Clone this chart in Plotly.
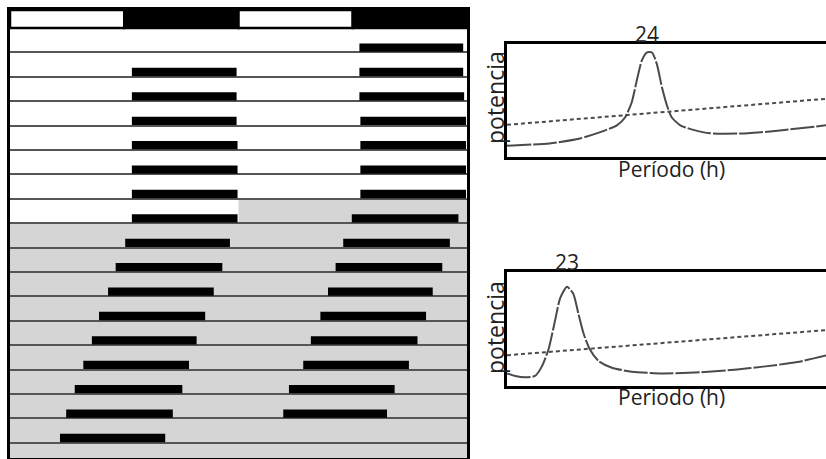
import plotly.graph_objects as go

# ---------------- data ----------------
# Actogram (double plotted, hours 0-48). Row n = day n.
left_days = [2, 3, 4, 5, 6, 7, 8, 9, 10, 11, 12, 13, 14, 15, 16, 17]
left_on = [12.8, 12.8, 12.8, 12.8, 12.8, 12.8, 12.8, 12.1, 11.1, 10.3, 9.35, 8.6, 7.7, 6.8, 5.9, 5.25]
left_off = [23.8, 23.8, 23.8, 23.9, 23.9, 23.9, 23.9, 23.1, 22.3, 21.4, 20.5, 19.6, 18.8, 18.1, 17.1, 16.3]

right_days = [1, 2, 3, 4, 5, 6, 7, 8, 9, 10, 11, 12, 13, 14, 15, 16]
right_on = [36.7, 36.7, 36.7, 36.8, 36.8, 36.8, 36.8, 35.9, 35.0, 34.2, 33.4, 32.6, 31.6, 30.8, 29.3, 28.7]
right_off = [47.6, 47.6, 47.7, 47.9, 47.9, 47.9, 47.9, 47.1, 46.2, 45.4, 44.4, 43.7, 42.8, 41.9, 40.4, 39.6]

# light/dark schedule bar at the top
ld_start = [0, 12, 24, 36]
ld_len = [12, 12, 12, 12]
ld_state = ["luz", "oscuridad", "luz", "oscuridad"]

# Periodogram 1 (LD)
per1 = [20.0, 21.2, 22.06, 22.63, 23.1, 23.33, 23.52, 23.66, 23.8, 23.95, 24.09, 24.23, 24.37, 24.53,
        24.65, 24.89, 25.26, 25.73, 26.8, 27.7, 29.0]
pow1 = [0.10, 0.12, 0.164, 0.22, 0.28, 0.35, 0.485, 0.675, 0.85, 0.925, 0.925, 0.82, 0.62, 0.44,
        0.35, 0.28, 0.24, 0.21, 0.21, 0.235, 0.28]
thr1_per = [20.0, 29.0]
thr1_pow = [0.285, 0.515]
peak1_label = "24"
peak1_per = 23.95

# Periodogram 2 (free running)
per2 = [21.3, 21.53, 21.81, 22.09, 22.28, 22.47, 22.66, 22.8, 22.99, 23.17, 23.31, 23.46, 23.64,
        23.88, 24.26, 24.82, 25.7, 26.75, 27.8, 28.53, 29.49, 30.34]
pow2 = [0.11, 0.088, 0.076, 0.088, 0.17, 0.32, 0.58, 0.77, 0.87, 0.81, 0.64, 0.46, 0.32,
        0.22, 0.16, 0.125, 0.11, 0.12, 0.145, 0.17, 0.21, 0.27]
thr2_per = [21.3, 30.3]
thr2_pow = [0.27, 0.49]
peak2_label = "23"
peak2_per = 23.0

# ---------------- figure ----------------
W, H = 826, 459
fig = go.Figure()

BAR_W = 0.34
OFF = 0.2

fig.add_trace(go.Bar(
    y=[d - OFF for d in left_days], x=[b - a for a, b in zip(left_on, left_off)], base=left_on,
    orientation="h", width=BAR_W, marker=dict(color="black", line=dict(width=0)),
    xaxis="x", yaxis="y", showlegend=False, hoverinfo="skip"))
fig.add_trace(go.Bar(
    y=[d - OFF for d in right_days], x=[b - a for a, b in zip(right_on, right_off)], base=right_on,
    orientation="h", width=BAR_W, marker=dict(color="black", line=dict(width=0)),
    xaxis="x", yaxis="y", showlegend=False, hoverinfo="skip"))
fig.add_trace(go.Bar(
    y=[-0.37] * len(ld_start), x=ld_len, base=ld_start, orientation="h", width=0.74,
    marker=dict(color=["white" if s == "luz" else "black" for s in ld_state],
                line=dict(color="black", width=2.5)),
    xaxis="x", yaxis="y", showlegend=False, hoverinfo="skip"))

line_col = "#4a4a4a"
fig.add_trace(go.Scatter(x=per1, y=pow1, mode="lines", line=dict(color=line_col, width=2, dash="24px,2px", shape="spline", smoothing=0.6),
                         xaxis="x2", yaxis="y2", showlegend=False))
fig.add_trace(go.Scatter(x=thr1_per, y=thr1_pow, mode="lines", line=dict(color=line_col, width=2, dash="4px,3px"),
                         xaxis="x2", yaxis="y2", showlegend=False))
fig.add_trace(go.Scatter(x=per2, y=pow2, mode="lines", line=dict(color=line_col, width=2, dash="24px,2px", shape="spline", smoothing=0.6),
                         xaxis="x3", yaxis="y3", showlegend=False))
fig.add_trace(go.Scatter(x=thr2_per, y=thr2_pow, mode="lines", line=dict(color=line_col, width=2, dash="4px,3px"),
                         xaxis="x3", yaxis="y3", showlegend=False))

def py(p):
    return 1 - p / H

def px(p):
    return p / W

ROW_BOTTOM = 17.62
fig.update_layout(
    width=W, height=H, margin=dict(l=0, r=0, t=0, b=0),
    paper_bgcolor="white", plot_bgcolor="white", barmode="overlay",
    font=dict(family="Open Sans", color="#222"),
    xaxis=dict(domain=[px(10), px(467)], range=[0, 48], showgrid=False, zeroline=False,
               showticklabels=False, ticks="", showline=True, mirror=True, linecolor="black", linewidth=3),
    yaxis=dict(domain=[py(458), py(10)], range=[ROW_BOTTOM, -0.74], tickvals=list(range(0, 18)),
               showgrid=True, gridcolor="#555", gridwidth=1.5, zeroline=False, showticklabels=False,
               ticks="", showline=True, mirror=True, linecolor="black", linewidth=3),
    xaxis2=dict(domain=[px(507), 1], range=[20, 29], anchor="y2", showgrid=False, zeroline=False,
                showticklabels=False, ticks="", showline=True, mirror=True, linecolor="black", linewidth=3),
    yaxis2=dict(domain=[py(157), py(44)], range=[0, 1], anchor="x2", showgrid=False, zeroline=False,
                showticklabels=False, ticks="", showline=True, linecolor="black", linewidth=3),
    xaxis3=dict(domain=[px(507), 1], range=[21.3, 30.3], anchor="y3", showgrid=False, zeroline=False,
                showticklabels=False, ticks="", showline=True, mirror=True, linecolor="black", linewidth=3),
    yaxis3=dict(domain=[py(386), py(272)], range=[0, 1], anchor="x3", showgrid=False, zeroline=False,
                showticklabels=False, ticks="", showline=True, linecolor="black", linewidth=3),
    shapes=[
        dict(type="rect", xref="x", yref="y", x0=0, x1=48, y0=8, y1=ROW_BOTTOM,
             fillcolor="#d5d5d5", line=dict(width=0), layer="below"),
        dict(type="rect", xref="x", yref="y", x0=24, x1=48, y0=7, y1=8,
             fillcolor="#d5d5d5", line=dict(width=0), layer="below"),
    ],
)

FS = 21
ann = []
ann.append(dict(text=peak1_label, x=peak1_per, xref="x2", y=py(33.5), yref="paper",
                showarrow=False, font=dict(size=FS), xanchor="center", yanchor="middle"))
ann.append(dict(text=peak2_label, x=peak2_per, xref="x3", y=py(261.5), yref="paper",
                showarrow=False, font=dict(size=FS), xanchor="center", yanchor="middle"))
for yc in (98, 328):
    ann.append(dict(text="potencia", x=px(495), y=py(yc), xref="paper", yref="paper", textangle=-90,
                    showarrow=False, font=dict(size=23), xanchor="center", yanchor="middle"))
ann.append(dict(text="Período (h)", x=px(671), y=py(169), xref="paper", yref="paper",
                showarrow=False, font=dict(size=FS), xanchor="center", yanchor="middle"))
ann.append(dict(text="Periodo (h)", x=px(671), y=py(397), xref="paper", yref="paper",
                showarrow=False, font=dict(size=FS), xanchor="center", yanchor="middle"))
fig.update_layout(annotations=ann)

fig.write_html("out.html")
